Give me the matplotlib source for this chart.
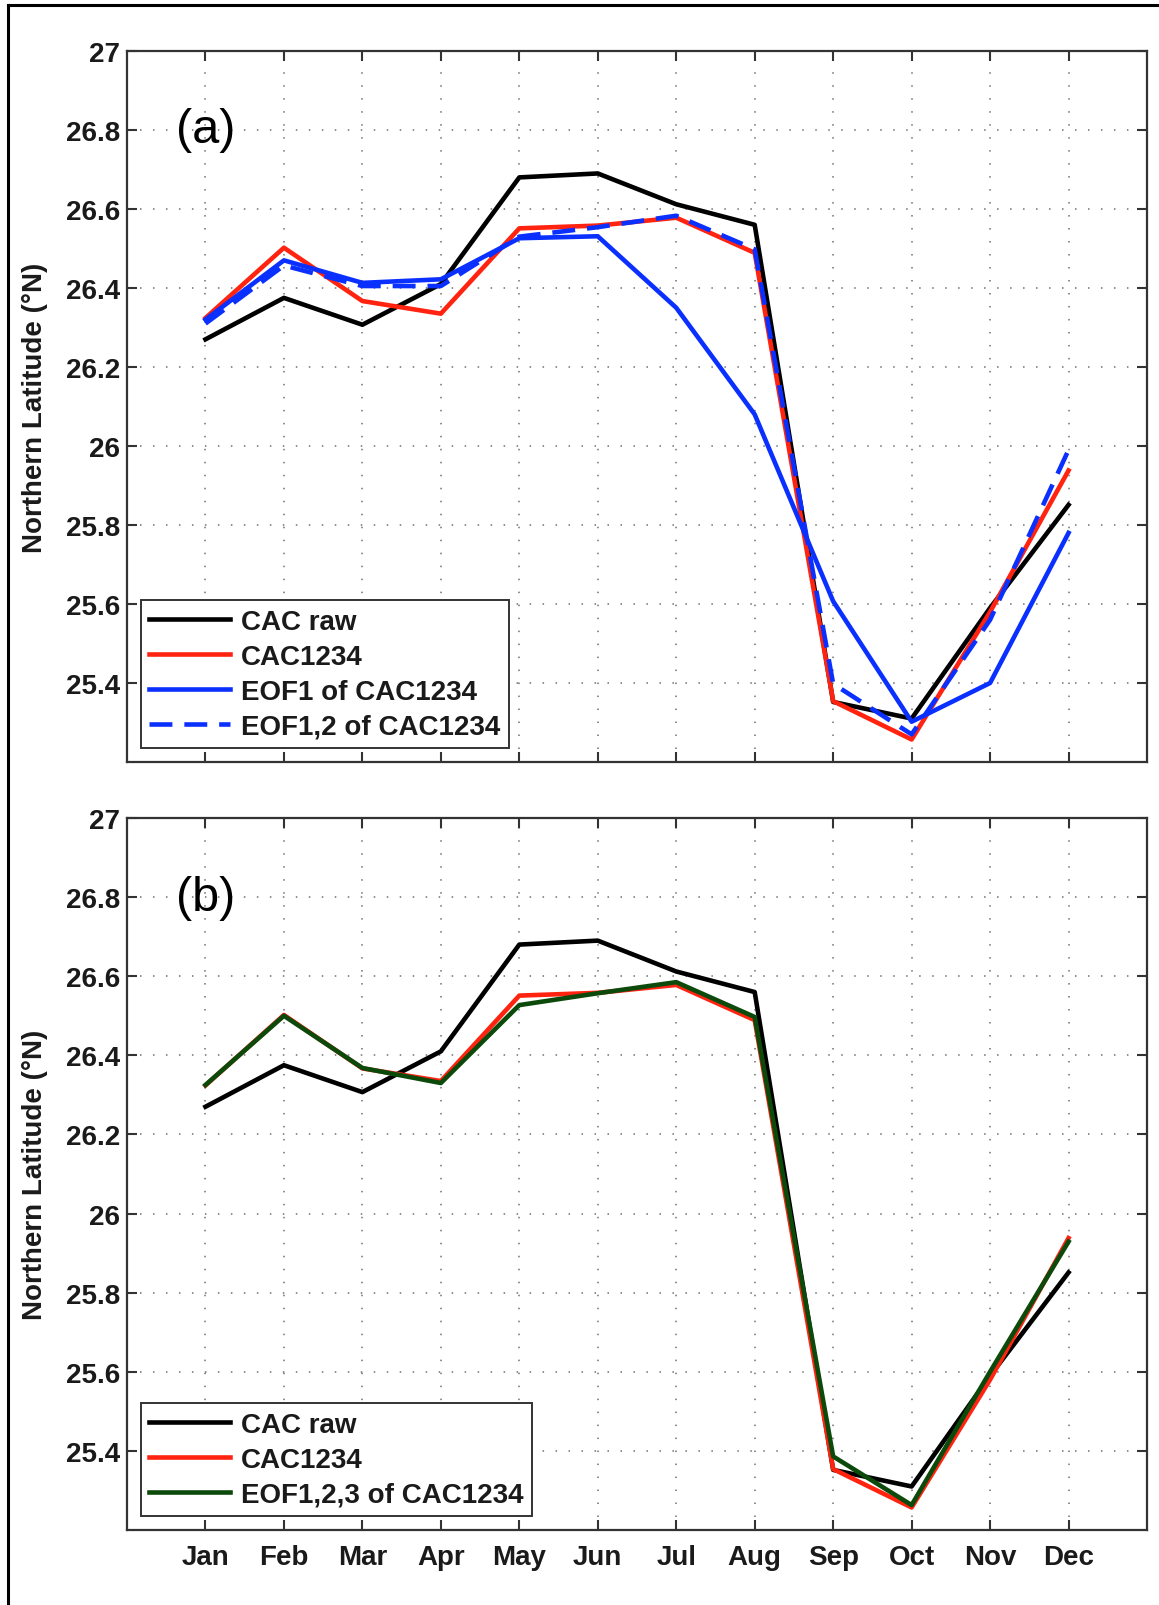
import matplotlib
matplotlib.use("Agg")
import matplotlib.pyplot as plt
from matplotlib.lines import Line2D

# Monthly mean northern-boundary latitude (deg N)
months = ["Jan", "Feb", "Mar", "Apr", "May", "Jun",
          "Jul", "Aug", "Sep", "Oct", "Nov", "Dec"]

cac_raw = [26.27, 26.375, 26.307, 26.41, 26.68, 26.69,
           26.612, 26.56, 25.352, 25.31, 25.59, 25.851]
cac1234 = [26.324, 26.502, 26.367, 26.335, 26.551, 26.558,
           26.578, 26.489, 25.354, 25.257, 25.58, 25.938]
eof1 = [26.32, 26.47, 26.413, 26.422, 26.526, 26.531,
        26.35, 26.08, 25.607, 25.302, 25.40, 25.78]
eof12 = [26.31, 26.457, 26.405, 26.405, 26.53, 26.554,
         26.583, 26.498, 25.398, 25.27, 25.56, 25.99]
eof123 = [26.325, 26.50, 26.368, 26.33, 26.527, 26.557,
          26.585, 26.497, 25.386, 25.263, 25.60, 25.929]

yticks = [25.4, 25.6, 25.8, 26, 26.2, 26.4, 26.6, 26.8, 27]
ytick_labels = ["25.4", "25.6", "25.8", "26", "26.2", "26.4", "26.6", "26.8", "27"]

BLACK = "#000000"
RED = "#ff2310"
BLUE = "#0a30ff"
GREEN = "#0b4a0b"
FONT = "Liberation Sans"
LW = 3.3
FS = 20

plt.rcParams["font.family"] = [FONT, "DejaVu Sans"]

W, H = 1159, 1606
fig = plt.figure(figsize=(W / 100, H / 100), dpi=100)

left = 127 / W
width = (1147 - 127) / W
ax_a = fig.add_axes([left, 1 - 763 / H, width, (763 - 52) / H])
ax_b = fig.add_axes([left, 1 - 1531 / H, width, (1531 - 819) / H])

x = list(range(1, len(months) + 1))


def style_axes(ax, show_xlabels):
    ax.set_xlim(0, 13)
    ax.set_ylim(25.2, 27)
    ax.set_xticks(x)
    ax.set_yticks(yticks)
    ax.set_yticklabels(ytick_labels)
    if show_xlabels:
        ax.set_xticklabels(months)
    else:
        ax.set_xticklabels([])
    ax.tick_params(direction="in", length=7, width=1.5, color="#333333",
                   top=True, right=True, labelsize=FS, pad=5)
    for lab in ax.get_xticklabels() + ax.get_yticklabels():
        lab.set_fontweight("bold")
        lab.set_color("#1a1a1a")
    ax.tick_params(axis="x", pad=10)
    for sp in ax.spines.values():
        sp.set_linewidth(1.6)
        sp.set_color("#333333")
    ax.grid(True, color="#707070", linewidth=1.1, linestyle=(0, (1, 7.5)))
    ax.set_axisbelow(True)
    ax.set_ylabel("Northern Latitude (\u00b0N)", fontsize=FS, fontweight="bold",
                  color="#1a1a1a")
    ax.yaxis.set_label_coords(-0.077, 0.5)


# Panel (a)
ax_a.plot(x, cac_raw, color=BLACK, lw=LW, label="CAC raw")
ax_a.plot(x, cac1234, color=RED, lw=LW, label="CAC1234")
ax_a.plot(x, eof1, color=BLUE, lw=LW, label="EOF1 of CAC1234")
ax_a.plot(x, eof12, color=BLUE, lw=LW, linestyle=(0, (5, 2.6)),
          label="EOF1,2 of CAC1234")
style_axes(ax_a, False)
ax_a.text(1, 26.8, "(a)", fontsize=35, ha="center", va="center")

# Panel (b)
ax_b.plot(x, cac_raw, color=BLACK, lw=LW, label="CAC raw")
ax_b.plot(x, cac1234, color=RED, lw=LW, label="CAC1234")
ax_b.plot(x, eof123, color=GREEN, lw=LW, label="EOF1,2,3 of CAC1234")
style_axes(ax_b, True)
ax_b.text(1, 26.8, "(b)", fontsize=35, ha="center", va="center")

for ax in (ax_a, ax_b):
    leg = ax.legend(loc="lower left", bbox_to_anchor=(0.0137, 0.02),
                    fancybox=False, framealpha=1, edgecolor="#333333",
                    prop={"family": FONT, "weight": "bold", "size": FS},
                    handlelength=2.9, handletextpad=0.4, labelspacing=0.32,
                    borderpad=0.3, borderaxespad=0)
    leg.get_frame().set_linewidth(1.4)
    for t in leg.get_texts():
        t.set_color("#1a1a1a")

# Outer frame edges along the left and top of the figure
fig.add_artist(Line2D([7.5 / W, 7.5 / W], [0, 1 - 6 / H], color="black",
                      lw=2.2, transform=fig.transFigure))
fig.add_artist(Line2D([7.5 / W, 1], [1 - 6 / H, 1 - 6 / H], color="black",
                      lw=2.2, transform=fig.transFigure))

fig.savefig("out.png", dpi=100, facecolor="white")
